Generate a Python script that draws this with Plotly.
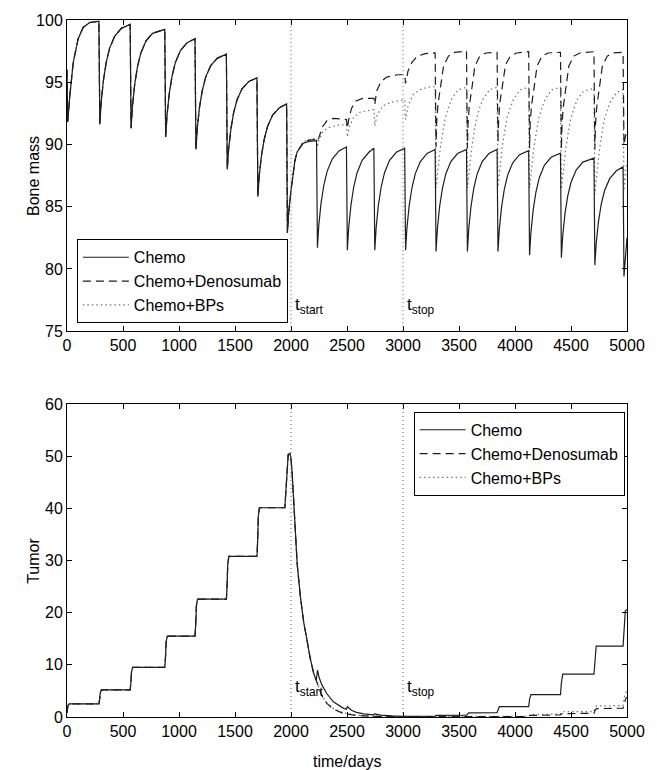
import plotly.graph_objects as go

# ---------------- Bone mass (top panel) ----------------
bone_chemo_t = [0, 6, 26, 56, 100, 144, 203, 285,
                293, 305, 325, 350, 380, 425, 485, 564,
                572, 584, 604, 629, 659, 704, 764, 873,
                881, 893, 913, 938, 968, 1013, 1073, 1143,
                1151, 1163, 1183, 1208, 1238, 1283, 1343, 1423,
                1431, 1443, 1463, 1488, 1518, 1563, 1623, 1696,
                1704, 1716, 1736, 1761, 1791, 1836, 1896, 1961,
                1968, 1980, 2000, 2015, 2035, 2055, 2110, 2160, 2228,
                2236, 2248, 2268, 2293, 2323, 2368, 2428, 2495,
                2503, 2515, 2535, 2560, 2590, 2635, 2695, 2740,
                2748, 2760, 2780, 2805, 2835, 2880, 2940, 3015,
                3023, 3035, 3055, 3080, 3110, 3155, 3215, 3287,
                3295, 3307, 3327, 3352, 3382, 3427, 3487, 3567,
                3575, 3587, 3607, 3632, 3662, 3707, 3767, 3840,
                3848, 3860, 3880, 3905, 3935, 3980, 4040, 4122,
                4130, 4142, 4162, 4187, 4217, 4262, 4322, 4406,
                4414, 4426, 4446, 4471, 4501, 4546, 4606, 4705,
                4713, 4725, 4745, 4770, 4800, 4845, 4905, 4965,
                4973, 4985, 5000]
bone_chemo_v = [96.0, 91.8, 94.0, 96.6, 98.5, 99.4, 99.8, 99.9,
                91.6, 93.37, 95.14, 96.59, 97.72, 98.68, 99.33, 99.65,
                91.3, 93.05, 94.8, 96.23, 97.34, 98.3, 98.93, 99.25,
                90.6, 92.34, 94.08, 95.5, 96.6, 97.55, 98.18, 98.5,
                89.6, 91.28, 92.97, 94.34, 95.41, 96.33, 96.94, 97.25,
                88.0, 89.62, 91.23, 92.56, 93.59, 94.47, 95.06, 95.35,
                85.8, 87.44, 89.08, 90.42, 91.46, 92.36, 92.95, 93.25,
                82.9, 84.6, 86.3, 87.4, 88.7, 89.4, 90.1, 90.25, 90.3,
                81.7, 83.48, 85.26, 86.72, 87.86, 88.83, 89.48, 89.8,
                81.5, 83.3, 85.11, 86.58, 87.73, 88.72, 89.37, 89.7,
                81.5, 83.3, 85.11, 86.58, 87.73, 88.72, 89.37, 89.7,
                81.5, 83.28, 85.06, 86.52, 87.66, 88.63, 89.28, 89.6,
                81.4, 83.2, 85.01, 86.48, 87.63, 88.62, 89.27, 89.6,
                81.4, 83.2, 85.01, 86.48, 87.63, 88.62, 89.27, 89.6,
                81.4, 83.18, 84.96, 86.42, 87.56, 88.53, 89.18, 89.5,
                81.1, 82.9, 84.71, 86.18, 87.33, 88.32, 88.97, 89.3,
                80.9, 82.66, 84.42, 85.86, 86.98, 87.94, 88.58, 88.9,
                80.3, 82.04, 83.78, 85.2, 86.3, 87.25, 87.88, 88.2,
                79.4, 81.0, 82.5]

# after t_start (t > 2000)
bone_dmab_t = [2015, 2035, 2055, 2110, 2160, 2228, 2240, 2257, 2280, 2320, 2380, 2495,
               2503, 2515, 2540, 2580, 2640, 2740, 2748, 2765, 2800, 2850, 2950, 3015,
               3023, 3045, 3080, 3130, 3200, 3287,
               3295, 3301, 3312, 3333, 3362, 3406, 3460, 3567,
               3575, 3581, 3592, 3613, 3642, 3686, 3740, 3840,
               3848, 3854, 3865, 3886, 3915, 3959, 4013, 4122,
               4130, 4136, 4147, 4168, 4197, 4241, 4295, 4406,
               4414, 4420, 4431, 4452, 4481, 4525, 4579, 4705,
               4713, 4719, 4730, 4751, 4780, 4824, 4878, 4965,
               4973, 4985, 5000]
bone_dmab_v = [87.4, 88.7, 89.4, 90.2, 90.35, 90.4, 90.3, 90.7, 91.4, 91.9, 92.1, 92.0,
               91.3, 92.0, 92.9, 93.5, 93.7, 93.7, 93.2, 94.3, 95.0, 95.4, 95.6, 95.6,
               94.9, 95.9, 96.6, 97.1, 97.3, 97.35,
               89.8, 91.8, 93.2, 94.5, 96.3, 97.1, 97.4, 97.5,
               89.7, 91.7, 93.1, 94.4, 96.3, 97.1, 97.35, 97.4,
               90.2, 92.0, 93.4, 94.6, 96.4, 97.1, 97.35, 97.45,
               89.7, 91.7, 93.1, 94.4, 96.3, 97.1, 97.35, 97.4,
               89.6, 91.6, 93.0, 94.4, 96.3, 97.1, 97.35, 97.45,
               89.6, 91.6, 93.0, 94.4, 96.3, 97.1, 97.35, 97.4,
               90.0, 90.6, 91.2]

bone_bps_t = [2015, 2035, 2055, 2110, 2160, 2228, 2236, 2250, 2290, 2350, 2420, 2495,
              2503, 2520, 2560, 2620, 2740, 2748, 2770, 2820, 2900, 3015,
              3023, 3045, 3090, 3150, 3220, 3287,
              3295, 3312, 3333, 3357, 3377, 3407, 3437, 3494, 3567,
              3575, 3592, 3613, 3637, 3657, 3687, 3717, 3774, 3840,
              3848, 3865, 3886, 3910, 3930, 3960, 3990, 4047, 4122,
              4130, 4147, 4168, 4192, 4212, 4242, 4272, 4329, 4406,
              4414, 4431, 4452, 4476, 4496, 4526, 4556, 4613, 4705,
              4713, 4730, 4751, 4775, 4795, 4825, 4855, 4912, 4965,
              4973, 4990, 5000]
bone_bps_v = [87.4, 88.7, 89.4, 90.2, 90.4, 90.5, 89.8, 90.4, 91.1, 91.4, 91.55, 91.6,
              90.6, 91.4, 92.2, 92.6, 92.8, 91.5, 92.4, 93.1, 93.4, 93.6,
              92.0, 93.1, 94.0, 94.4, 94.6, 94.65,
              86.5, 88.2, 89.7, 91.1, 92.1, 93.0, 93.7, 94.4, 94.6,
              86.5, 88.2, 89.7, 91.1, 92.1, 93.0, 93.7, 94.4, 94.6,
              86.6, 88.3, 89.8, 91.2, 92.2, 93.0, 93.7, 94.4, 94.6,
              86.5, 88.2, 89.7, 91.1, 92.1, 93.0, 93.7, 94.4, 94.6,
              86.4, 88.1, 89.6, 91.0, 92.0, 92.9, 93.6, 94.3, 94.5,
              86.0, 87.8, 89.4, 90.8, 91.9, 92.8, 93.5, 94.2, 94.4,
              86.3, 87.8, 88.6]

# ---------------- Tumor (bottom panel) ----------------
tum_chemo_t = [0, 8, 20, 285, 291, 297, 307, 564, 570, 576, 586, 873, 879, 885, 895,
               1143, 1149, 1155, 1165, 1423, 1429, 1435, 1445, 1696, 1702, 1708, 1718,
               1945, 1955, 1965, 1975, 1990, 2000, 2011, 2025, 2040, 2055, 2084, 2113,
               2143, 2172, 2202, 2225,
               2237, 2250, 2275, 2319, 2378, 2466, 2495, 2503, 2540, 2584, 2650, 2735,
               2745, 2800, 2900, 3000, 3287, 3295, 3567, 3575, 3587, 3840, 3848, 3860,
               4122, 4130, 4142, 4406, 4414, 4426, 4705, 4713, 4725, 4965, 4973, 4985, 5000]
tum_chemo_v = [0.8, 2.2, 2.5, 2.5, 3.3, 4.6, 5.2, 5.2, 6.5, 8.6, 9.5, 9.5, 11.3, 14.3, 15.5,
               15.5, 17.6, 21.2, 22.6, 22.6, 25.0, 29.2, 30.8, 30.8, 33.6, 38.4, 40.1,
               40.1, 43.5, 48.5, 50.3, 50.5, 49.5, 46.5, 40.1, 34.4, 29.4, 23.0, 18.2,
               14.7, 11.2, 8.4, 7.0,
               9.0, 7.6, 6.2, 4.5, 2.9, 1.7, 1.5, 2.0, 1.3, 0.9, 0.6, 0.4,
               0.6, 0.35, 0.2, 0.12, 0.15, 0.3, 0.35, 0.6, 0.8, 0.85, 1.5, 2.0,
               2.0, 3.4, 4.3, 4.3, 6.5, 8.2, 8.2, 11.3, 13.6, 13.6, 17.5, 20.4, 20.6]

# after the chemo-only bump at t = 2225
tum_dmab_t = [2240, 2257, 2275, 2300, 2320, 2378, 2466, 2584, 2700, 3000, 3600, 4122, 4135,
              4406, 4418, 4705, 4715, 4728, 4965, 4975, 4988, 5000]
tum_dmab_v = [5.9, 4.9, 4.1, 3.2, 2.6, 1.5, 0.7, 0.3, 0.15, 0.05, 0.05, 0.1, 0.3,
              0.4, 0.65, 0.7, 1.3, 1.6, 1.7, 2.8, 3.5, 3.8]
tum_bps_t = [2240, 2257, 2275, 2300, 2320, 2378, 2466, 2584, 2700, 3000, 3600, 4122, 4135,
             4406, 4418, 4705, 4715, 4728, 4965, 4975, 4988, 5000]
tum_bps_v = [6.0, 5.0, 4.2, 3.3, 2.7, 1.6, 0.8, 0.35, 0.2, 0.08, 0.1, 0.15, 0.5,
             0.55, 1.0, 1.05, 1.8, 2.1, 2.2, 3.7, 4.6, 5.0]

names = ["Chemo", "Chemo+Denosumab", "Chemo+BPs"]
t_start, t_stop = 2000, 3000
x_ticks = list(range(0, 5001, 500))


def with_prefix(ct, cv, limit, pt, pv):
    xs = [t for t in ct if t <= limit] + pt
    ys = [v for t, v in zip(ct, cv) if t <= limit] + pv
    return xs, ys


FONT = "Liberation Sans, Arial, Helvetica, sans-serif"
FS = 16
styles = [dict(color="#1e1e1e", width=1.2, dash="solid"),
          dict(color="#1e1e1e", width=1.2, dash="8px,5px"),
          dict(color="#707070", width=1.2, dash="1.5px,3px")]

fig = go.Figure()

bone_series = [(bone_chemo_t, bone_chemo_v),
               with_prefix(bone_chemo_t, bone_chemo_v, t_start, bone_dmab_t, bone_dmab_v),
               with_prefix(bone_chemo_t, bone_chemo_v, t_start, bone_bps_t, bone_bps_v)]
tum_series = [(tum_chemo_t, tum_chemo_v),
              with_prefix(tum_chemo_t, tum_chemo_v, 2225, tum_dmab_t, tum_dmab_v),
              with_prefix(tum_chemo_t, tum_chemo_v, 2225, tum_bps_t, tum_bps_v)]

# draw order: dotted, dashed, solid on top
for i in [2, 1, 0]:
    xs, ys = bone_series[i]
    fig.add_trace(go.Scatter(x=xs, y=ys, mode="lines", name=names[i], line=styles[i],
                             xaxis="x", yaxis="y", legend="legend", legendrank=i + 1))
for i in [2, 1, 0]:
    xs, ys = tum_series[i]
    fig.add_trace(go.Scatter(x=xs, y=ys, mode="lines", name=names[i], line=styles[i],
                             xaxis="x2", yaxis="y2", legend="legend2", legendrank=i + 1))

axis_common = dict(showline=True, linecolor="black", linewidth=1, mirror="ticks",
                   ticks="inside", ticklen=5, tickcolor="black", showgrid=False,
                   zeroline=False, tickfont=dict(family=FONT, size=FS, color="black"))

shapes = []
for tv in [t_start, t_stop]:
    shapes.append(dict(type="line", xref="x", yref="y", x0=tv, x1=tv, y0=75, y1=100,
                       line=dict(color="#606060", width=1, dash="1px,3px")))
    shapes.append(dict(type="line", xref="x2", yref="y2", x0=tv, x1=tv, y0=0, y1=60,
                       line=dict(color="#606060", width=1, dash="1px,3px")))

annots = []
for tv, lab in [(t_start, "t<sub>start</sub>"), (t_stop, "t<sub>stop</sub>")]:
    annots.append(dict(x=tv + 20, y=77.0, xref="x", yref="y", text=lab, showarrow=False,
                       xanchor="left", yanchor="middle",
                       font=dict(family=FONT, size=FS + 1, color="black")))
    annots.append(dict(x=tv + 20, y=5.6, xref="x2", yref="y2", text=lab, showarrow=False,
                       xanchor="left", yanchor="middle",
                       font=dict(family=FONT, size=FS + 1, color="black")))

# axis titles placed like the MATLAB original
annots.append(dict(text="Bone mass", x=-0.06, y=0.5536 + (1 - 0.5536) / 2, xref="paper",
                   yref="paper", textangle=-90, showarrow=False, xanchor="center",
                   yanchor="middle", font=dict(family=FONT, size=FS, color="black")))
annots.append(dict(text="Tumor", x=-0.06, y=0.4492 / 2, xref="paper",
                   yref="paper", textangle=-90, showarrow=False, xanchor="center",
                   yanchor="middle", font=dict(family=FONT, size=FS, color="black")))
annots.append(dict(text="time/days", x=0.5, y=-0.0644, xref="paper", yref="paper",
                   showarrow=False, xanchor="center", yanchor="middle",
                   font=dict(family=FONT, size=FS, color="black")))

legend_common = dict(bgcolor="white", bordercolor="black", borderwidth=1,
                     font=dict(family=FONT, size=FS, color="black"),
                     itemwidth=46, xanchor="left", yanchor="top", traceorder="normal")

fig.update_layout(
    width=657, height=770,
    margin=dict(l=67, r=23, t=18, b=53),
    paper_bgcolor="white", plot_bgcolor="white",
    font=dict(family=FONT, size=FS, color="black"),
    xaxis=dict(domain=[0, 1], anchor="y", range=[0, 5000], tickvals=x_ticks, **axis_common),
    yaxis=dict(domain=[0.5536, 1], anchor="x", range=[75, 100], dtick=5, **axis_common),
    xaxis2=dict(domain=[0, 1], anchor="y2", range=[0, 5000], tickvals=x_ticks, **axis_common),
    yaxis2=dict(domain=[0, 0.4492], anchor="x2", range=[0, 60], dtick=10, **axis_common),
    legend=dict(x=0.0176, y=0.6853, **legend_common),
    legend2=dict(x=0.619, y=0.4378, **legend_common),
    shapes=shapes,
    annotations=annots,
    showlegend=True,
)

fig.write_html("out.html")
